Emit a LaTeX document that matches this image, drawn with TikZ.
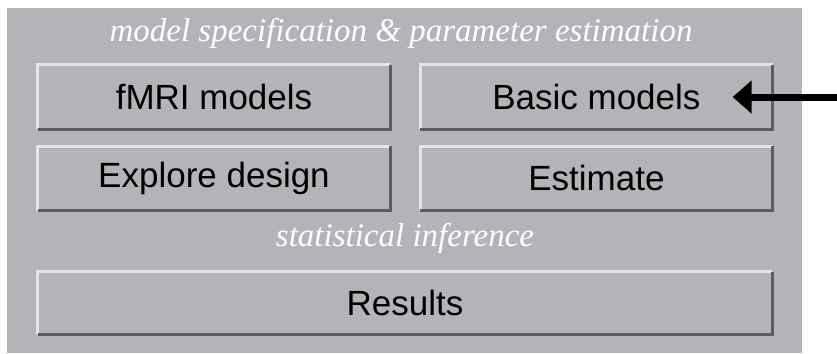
\documentclass[tikz,border=0pt]{standalone}
\usepackage{fontspec}
\setmainfont{Liberation Serif}
\setsansfont{Liberation Sans}
\usetikzlibrary{positioning,arrows.meta}

\definecolor{panelgray}{RGB}{180,180,184}
\definecolor{bevellight}{RGB}{228,228,230}
\definecolor{beveldark}{RGB}{92,92,96}

\newcommand\btn[1]{\sffamily\fontsize{35}{40}\selectfont #1}
\newcommand\hdr[1]{\itshape\fontsize{33}{36}\selectfont #1}

\begin{document}
\begin{tikzpicture}[x=1pt, y=-1pt, node distance=17pt and 30pt,
  button/.style = {shape=rectangle, fill=panelgray, inner sep=0pt,
    minimum width=352pt, minimum height=64pt, text=black},
  heading/.style = {text=white, inner sep=0pt},
  pointer/.style = {line width=7pt, -{Triangle[length=19pt, width=32pt]}}]
  \useasboundingbox (0,0) rectangle (837,353);
  \fill[panelgray] (7,8) rectangle (802,353);
  \node[heading] (spec) at (401,33) {\hdr{model specification \& parameter estimation}};
  \node[button] (fmri) at (214,97) {\btn{fMRI models}};
  \node[button, right=of fmri] (basic) {\btn{Basic models}};
  \node[button, below=of fmri] (explore) {\btn{Explore design}};
  \node[button, below=of basic] (estimate) {\btn{Estimate}};
  \node[heading] (infer) at (405,238) {\hdr{statistical inference}};
  \node[button, minimum width=734pt, minimum height=62pt] (results) at (405,303)
    {\btn{Results}};
  % raised edges
  \foreach \b in {fmri,basic,explore,estimate,results} {
    \draw[bevellight, line width=3pt] (\b.south west) -- (\b.north west) -- (\b.north east);
    \draw[beveldark, line width=3pt] (\b.north east) -- (\b.south east) -- (\b.south west);
  }
  \coordinate (tail) at ([xshift=65pt]basic.east);
  \draw[pointer] (tail) -- ([xshift=-40pt]basic.east);
\end{tikzpicture}
\end{document}
